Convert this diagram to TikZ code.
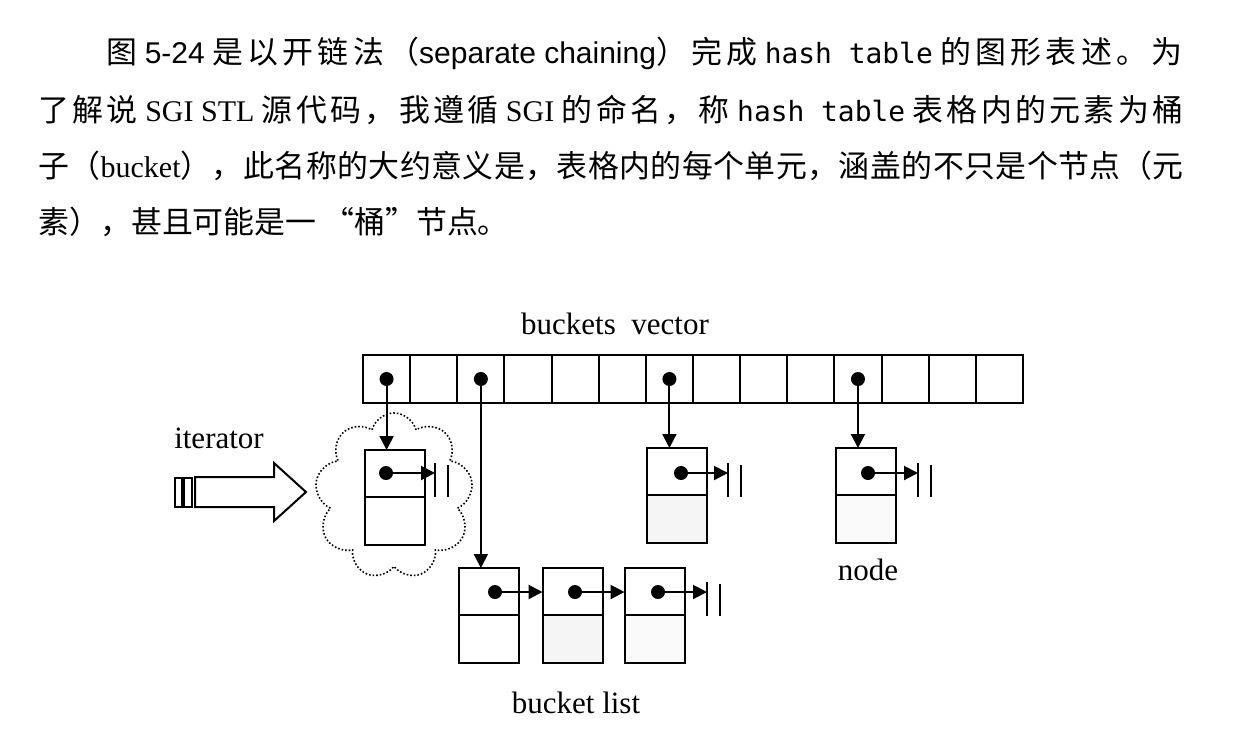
\documentclass[tikz,border=0pt]{standalone}
\usepackage{fontspec}
\setmainfont{Liberation Serif}
\newfontfamily\cjk[Scale=1.03]{Noto Sans CJK SC}
\newfontfamily\sans{Liberation Sans}
\newfontfamily\mono[Scale=0.93]{DejaVu Sans Mono}
\usetikzlibrary{arrows.meta,shapes.symbols}

% Chinese run with stretchable glue between the characters
\makeatletter
\def\zh@glue{\hskip0pt plus1fil\relax}
\newcommand\zh[1]{{\cjk\let\zh@sep\relax\@tfor\zh@c:=#1\do{\zh@sep\zh@c\let\zh@sep\zh@glue}}}
\makeatother

\tikzset{
  vcell/.style={draw,line width=1pt,minimum width=23.57pt,minimum height=24pt,inner sep=0pt,outer sep=0pt},
  ptr/.style={circle,fill,inner sep=0pt,minimum size=7pt},
  topcell/.style={draw,line width=1pt,minimum width=30pt,minimum height=23.5pt,inner sep=0pt,outer sep=0pt},
  botcell/.style={topcell,minimum height=24pt,anchor=north},
  arrowlink/.style={line width=1pt,-{Triangle[length=7pt,width=7pt]}},
  lbl/.style={font=\fontsize{15.5}{18}\selectfont,anchor=base,inner sep=0pt},
  textline/.style={anchor=base west,inner sep=0pt,font=\fontsize{15}{18}\selectfont},
  nullend/.pic={
    \draw[line width=1.2pt](0,-10)--(0,24);
    \draw[line width=1pt](13,-8)--(13,24);
  },
}

\begin{document}
\begin{tikzpicture}[x=.5pt,y=-.5pt]
    \useasboundingbox (0,0) rectangle (1246,730);
    % paragraph
    \node[textline] (t1) at (106,63) {\makebox[538pt][s]{\zh{图} {\sans 5-24} \zh{是以开链法（}{\sans separate chaining}\zh{）完成} {\mono hash table} \zh{的图形表述。为}}};
    \node[textline] (t2) at (38,121) {\makebox[572.5pt][s]{\zh{了解说} SGI STL \zh{源代码，我遵循} SGI \zh{的命名，称} {\mono hash table} \zh{表格内的元素为桶}}};
    \node[textline] (t3) at (38,177) {\makebox[572.5pt][s]{\zh{子（}bucket\zh{），此名称的大约意义是，表格内的每个单元，涵盖的不只是个节点（元}}};
    \node[textline] (t4) at (38,233) {{\cjk 素），甚且可能是一 “桶”节点。}};
    % buckets vector
    \node[lbl] (vec) at (615,334) {buckets\ \ vector};
    \foreach \i in {0,...,13}{
        \node[vcell] (v\i) at ({363+47.14*(\i+.5)},379) {};
    }
    \foreach \i in {0,2,6,10}{
        \node[ptr] (d\i) at (v\i) {};
    }
    % the node the iterator points at
    \node[cloud,cloud puffs=9,cloud ignores aspect,draw,densely dotted,line width=.8pt,minimum width=79pt,minimum height=83pt] (cl) at (394,496) {};
    \node[topcell] (a) at (394.5,473.5) {};
    \node[botcell] (ab) at (a.south) {};
    \node[ptr] (pa) at (386,473) {};
    % single nodes
    \node[topcell] (b) at (677,471.5) {};
    \node[botcell,fill=black!4] (bb) at (b.south) {};
    \node[ptr] (pb) at (681,473) {};
    \node[topcell] (c) at (865.5,471.5) {};
    \node[botcell,fill=black!2] (cb) at (c.south) {};
    \node[ptr] (pc) at (868,473) {};
    \node[lbl] (nd) at (868,580) {node};
    % bucket list
    \node[topcell] (l1) at (489,591.5) {};
    \node[botcell] (l1b) at (l1.south) {};
    \node[ptr] (p1) at (495,592) {};
    \node[topcell] (l2) at (572.5,591.5) {};
    \node[botcell,fill=black!4] (l2b) at (l2.south) {};
    \node[ptr] (p2) at (575,592) {};
    \node[topcell] (l3) at (654.5,591.5) {};
    \node[botcell,fill=black!2] (l3b) at (l3.south) {};
    \node[ptr] (p3) at (658,592) {};
    \node[lbl] (bl) at (576,713) {bucket list};
    % links
    \draw[arrowlink] (d0) -- (d0 |- a.north);
    \draw[arrowlink] (d2) -- (d2 |- l1.north);
    \draw[arrowlink] (d6) -- (d6 |- b.north);
    \draw[arrowlink] (d10) -- (d10 |- c.north);
    \draw[arrowlink] (p1) -- (p1 -| l2.west);
    \draw[arrowlink] (p2) -- (p2 -| l3.west);
    \coordinate (ea) at (435,473);
    \coordinate (eb) at (728,473);
    \coordinate (ec) at (918,473);
    \coordinate (e3) at (707,592);
    \draw[arrowlink] (pa) -- (ea);
    \draw[arrowlink] (pb) -- (eb);
    \draw[arrowlink] (pc) -- (ec);
    \draw[arrowlink] (p3) -- (e3);
    \foreach \e in {ea,eb,ec,e3}{
        \pic at (\e) {nullend};
    }
    % iterator
    \node[lbl] (it) at (219,448) {iterator};
    \draw[line width=1pt] (195,477) -- (274,477) -- (274,463) -- (306,492) -- (274,521) -- (274,507) -- (195,507) -- cycle;
    \draw[line width=1pt] (175,478) rectangle (182,507) (184,478) rectangle (192,507);
\end{tikzpicture}
\end{document}
